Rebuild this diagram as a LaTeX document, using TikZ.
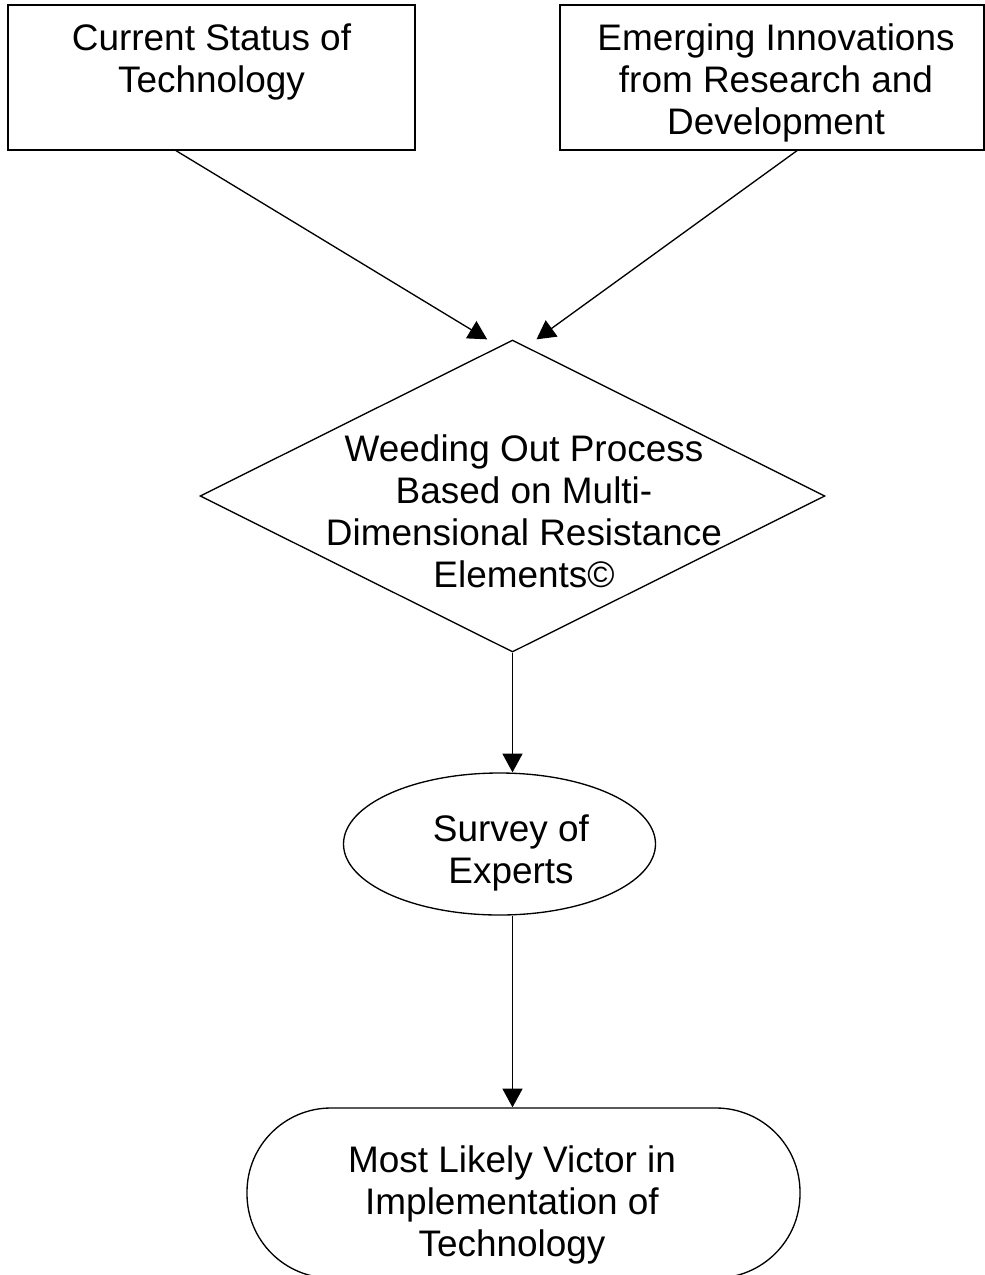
\documentclass[tikz,border=0pt]{standalone}
\usepackage{fontspec}
\setmainfont{Liberation Sans}
\usetikzlibrary{shapes.geometric,arrows.meta}
\begin{document}
\begin{tikzpicture}[x=0.75pt,y=-0.75pt,
  shapeline/.style={draw=black,line width=1pt,inner sep=0pt},
  boxshape/.style={shapeline,rectangle},
  decshape/.style={shapeline,diamond},
  ovalshape/.style={shapeline,ellipse},
  termshape/.style={shapeline,rectangle,rounded corners=63pt},
  lbl/.style={align=center,inner sep=0pt,font=\fontsize{27.7}{31.5}\selectfont},
  arr/.style={draw=black,line width=1pt,-{Triangle[length=14pt,width=15pt]}}]
\useasboundingbox (0,0) rectangle (985,1275);
% shapes
\node[boxshape,minimum width=305.25pt,minimum height=108.75pt] (cs) at (211.5,77.5) {};
\node[boxshape,minimum width=318pt,minimum height=108.75pt] (er) at (772,77.5) {};
\node[decshape,minimum width=468.75pt,minimum height=234pt] (wd) at (512.5,496) {};
\node[ovalshape,minimum width=234pt,minimum height=106.5pt] (sv) at (499.5,844) {};
\node[termshape,minimum width=414.75pt,minimum height=127.5pt] (mv) at (523.5,1193) {};
% texts
\node[lbl] (cst) at (211.5,62) {Current Status of\\Technology};
\node[lbl] (ert) at (776,83) {Emerging Innovations\\from Research and\\Development};
\node[lbl] (wdt) at (524,511) {Weeding Out Process\\Based on Multi-\\Dimensional Resistance\\Elements©};
\node[lbl] (svt) at (511,853) {Survey of\\Experts};
\node[lbl] (mvt) at (512,1205) {Most Likely Victor in\\Implementation of\\Technology};
% connectors
\draw[arr] ([xshift=-26.6pt]cs.south) -- ([xshift=-19pt]wd.north);
\draw[arr] ([xshift=18.75pt]er.south) -- ([xshift=18pt]wd.north);
\draw[arr] (wd.south) -- (wd.south |- sv.north);
\draw[arr] (wd.south |- sv.south) -- (wd.south |- mv.north);
\end{tikzpicture}
\end{document}
